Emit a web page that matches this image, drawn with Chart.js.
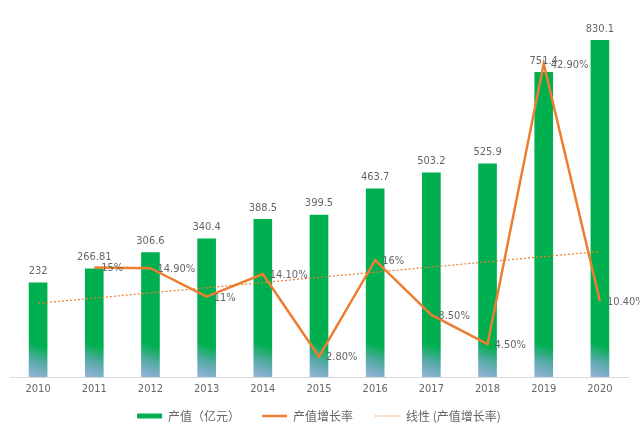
<!DOCTYPE html>
<html><head><meta charset="utf-8">
<script src="https://cdn.jsdelivr.net/npm/chart.js@4/dist/chart.umd.min.js"></script>
<style>html,body{margin:0;padding:0;background:#fff}#wrap{width:640px;height:427px}</style>
</head><body><div id="wrap"><canvas id="c"></canvas></div>
<script>
const years = ['2010','2011','2012','2013','2014','2015','2016','2017','2018','2019','2020'];
const outputValue = [232, 266.81, 306.6, 340.4, 388.5, 399.5, 463.7, 503.2, 525.9, 751.4, 830.1];
const growthRate = [null, 15, 14.9, 11, 14.1, 2.8, 16, 8.5, 4.5, 42.9, 10.4];
const growthLabels = ['', '15%', '14.90%', '11%', '14.10%', '2.80%', '16%', '8.50%', '4.50%', '42.90%', '10.40%'];
const trendRate = [10.1, null, null, null, null, null, null, null, null, null, 17.2];
const seriesNames = ['产值（亿元）', '产值增长率', '线性 (产值增长率)'];

const GREEN = '#00B050', ORANGE = '#ED7D31', GRAY = '#666666';
const numFont = "'Liberation Sans Narrow', 'DejaVu Sans Condensed', 'Liberation Sans', Arial, sans-serif";

function barFill(ctx) {
  const chart = ctx.chart, area = chart.chartArea;
  if (!area || !chart.scales.x) return GREEN;
  const x = chart.scales.x.getPixelForValue(ctx.dataIndex);
  const g = chart.ctx.createLinearGradient(x - 9, area.bottom, x + 6, area.bottom - 45);
  g.addColorStop(0, 'rgba(150,180,220,1)');
  g.addColorStop(0.35, 'rgba(90,170,170,1)');
  g.addColorStop(0.7, GREEN);
  g.addColorStop(1, GREEN);
  return g;
}

const labelPlugin = {
  id: 'valueLabels',
  beforeLayout(chart) {
    const lg = chart.legend;
    if (lg && !lg._patched) {
      const orig = lg.fit.bind(lg);
      lg.fit = function () { orig(); this.height = 39; };
      lg._patched = true;
    }
  },
  afterDatasetsDraw(chart) {
    const c = chart.ctx;
    c.save();
    c.fillStyle = GRAY;
    c.font = '11px ' + numFont;
    const bars = chart.getDatasetMeta(0).data;
    c.textAlign = 'center'; c.textBaseline = 'bottom';
    bars.forEach((el, i) => { c.fillText(String(outputValue[i]), el.x, el.y - 6); });
    const pts = chart.getDatasetMeta(1).data;
    c.textAlign = 'left'; c.textBaseline = 'middle';
    pts.forEach((el, i) => { if (growthRate[i] != null) c.fillText(growthLabels[i], el.x + 7, el.y + 1); });
    c.restore();
  }
};

new Chart(document.getElementById('c'), {
  data: {
    labels: years,
    datasets: [
      { type: 'bar', label: seriesNames[0], data: outputValue, yAxisID: 'y', backgroundColor: barFill, barThickness: 18, order: 3 },
      { type: 'line', label: seriesNames[1], data: growthRate, yAxisID: 'y2', borderColor: ORANGE, borderWidth: 2.5, pointRadius: 0, tension: 0, order: 1 },
      { type: 'line', label: seriesNames[2], data: trendRate, yAxisID: 'y2', borderColor: ORANGE, borderWidth: 1.2, borderDash: [2, 2], pointRadius: 0, spanGaps: true, order: 2 }
    ]
  },
  options: {
    responsive: true, maintainAspectRatio: false, animation: false,
    layout: { padding: { left: 10, right: 12, top: 12, bottom: 0 } },
    scales: {
      x: { grid: { display: false, drawTicks: false }, border: { display: true, color: '#D9D9D9', width: 1 },
           ticks: { color: GRAY, font: { size: 11, family: numFont }, padding: 6 },
           afterFit(scale) { scale.height = 11; scale._computeLabelArea = () => undefined; } },
      y: { display: false, min: 0, max: 900 },
      y2: { display: false, min: 0, max: 50 }
    },
    plugins: {
      tooltip: { enabled: false },
      legend: {
        position: 'bottom',
        labels: {
          usePointStyle: true, pointStyleWidth: 25, boxHeight: 6, padding: 22,
          color: GRAY, font: { size: 12, family: "'Noto Sans CJK SC', sans-serif" },
          generateLabels() {
            return [
              { text: seriesNames[0], strokeStyle: GREEN, fillStyle: GREEN, lineWidth: 5, pointStyle: 'line', datasetIndex: 0, fontColor: GRAY },
              { text: seriesNames[1], strokeStyle: ORANGE, fillStyle: ORANGE, lineWidth: 2.5, pointStyle: 'line', datasetIndex: 1, fontColor: GRAY },
              { text: seriesNames[2], strokeStyle: ORANGE, fillStyle: ORANGE, lineWidth: 1, lineDash: [1.5, 1.5], pointStyle: 'line', datasetIndex: 2, fontColor: GRAY }
            ];
          }
        }
      }
    }
  },
  plugins: [labelPlugin]
});
</script></body></html>
